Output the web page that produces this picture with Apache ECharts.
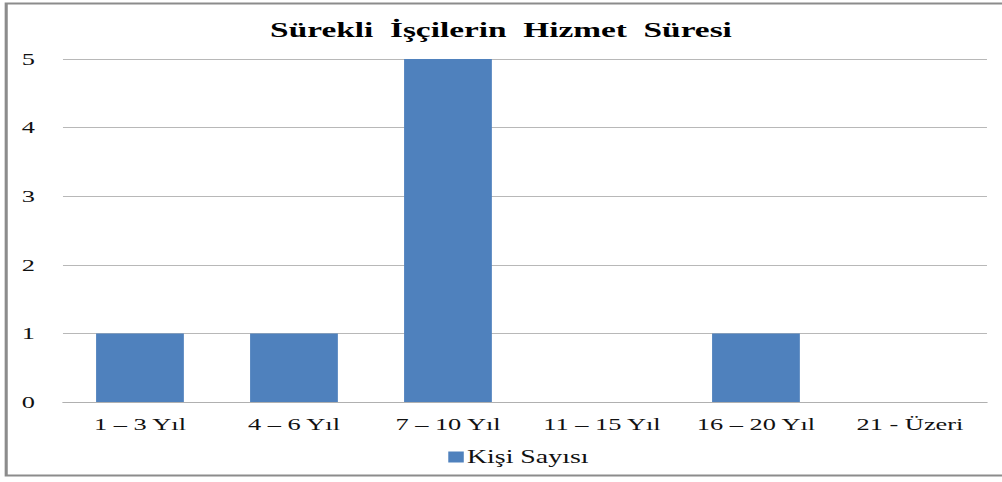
<!DOCTYPE html>
<html>
<head>
<meta charset="utf-8">
<script src="https://cdn.jsdelivr.net/npm/echarts@6/dist/echarts.min.js"></script>
<style>
  html, body { margin: 0; padding: 0; background: #fff; overflow: hidden; }
  /* the reference picture is stretched sideways, so draw narrow and widen */
  #chart { width: 646px; height: 482px; transform: scaleX(1.5511); transform-origin: 0 0; }
</style>
</head>
<body>
<div id="chart"></div>
<script>
const categories = ['1 – 3 Yıl', '4 – 6 Yıl', '7 – 10 Yıl', '11 – 15 Yıl', '16 – 20 Yıl', '21 - Üzeri'];
const kisiSayisi = [1, 1, 5, 0, 1, 0];
const seriesName = 'Kişi Sayısı';
const chartTitle = 'Sürekli  İşçilerin  Hizmet  Süresi';

const chart = echarts.init(document.getElementById('chart'), null, { renderer: 'svg' });
const serif = '"Liberation Serif", "DejaVu Serif", serif';

const option = {
    backgroundColor: '#fff',
    animation: false,
    title: {
        text: chartTitle,
        left: 'center',
        top: 14,
        textStyle: { fontFamily: serif, fontSize: 21.5, fontWeight: 'bold', color: '#000' }
    },
    graphic: [{
        type: 'rect',
        shape: { x: 4, y: 3.5, width: 660, height: 472 },
        style: { fill: 'none', stroke: '#8c8c8c', lineWidth: 2 },
        silent: true
    }],
    legend: {
        data: [seriesName],
        bottom: 11,
        left: 284,
        icon: 'rect',
        itemWidth: 10,
        itemHeight: 11,
        itemGap: 2,
        textStyle: { fontFamily: serif, fontSize: 18, color: '#111', padding: [0, 0, 0, -3] }
    },
    grid: {
        left: 40.6,
        right: 9.7,
        top: 59,
        bottom: 80
    },
    xAxis: {
        type: 'category',
        data: categories,
        axisTick: { show: false },
        axisLine: { lineStyle: { color: '#b0b0b0' } },
        axisLabel: { fontFamily: serif, fontSize: 17, color: '#111', margin: 14, interval: 0, hideOverlap: false }
    },
    yAxis: {
        type: 'value',
        min: 0,
        max: 5,
        interval: 1,
        axisLine: { show: false },
        axisTick: { show: false },
        axisLabel: { fontFamily: serif, fontSize: 17, color: '#111', margin: 18 },
        splitLine: { lineStyle: { color: '#b8b8b8' } }
    },
    series: [{
        name: seriesName,
        type: 'bar',
        data: kisiSayisi,
        barCategoryGap: '43%',
        itemStyle: { color: '#4F81BD' }
    }]
};

chart.setOption(option);
</script>
</body>
</html>
